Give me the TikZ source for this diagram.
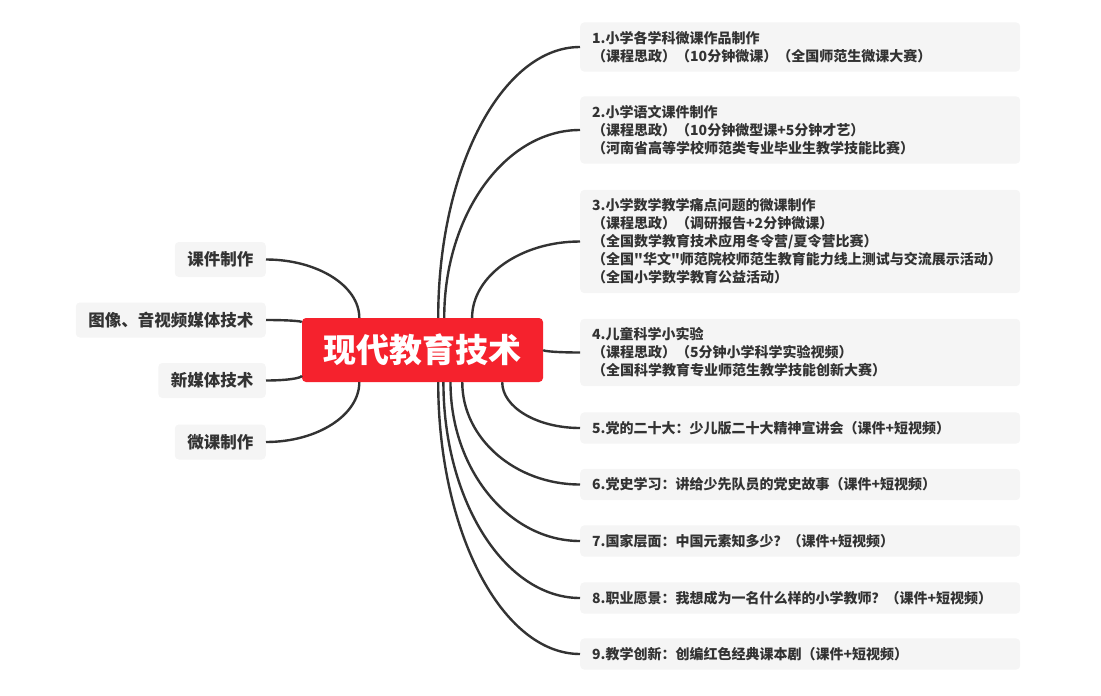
\documentclass[tikz,border=0pt]{standalone}
\usepackage{fontspec}
\setmainfont{Noto Sans CJK SC}[Ligatures=TeXOff]
\usetikzlibrary{calc}

\definecolor{inkgray}{HTML}{333333}
\definecolor{boxgray}{HTML}{F5F5F5}
\definecolor{corered}{HTML}{F5222D}

\begin{document}
\begin{tikzpicture}[
  x=1pt, y=-1pt,
  core/.style={fill=corered, rounded corners=4pt, text=white, font=\fontsize{33}{36}\selectfont\bfseries, minimum width=241pt, minimum height=64pt, inner sep=0pt},
  topic/.style={fill=boxgray, rounded corners=4pt, text=inkgray, font=\fontsize{16.5}{18}\selectfont\bfseries, minimum height=35pt, inner xsep=12.5pt, inner ysep=0pt, anchor=east},
  item/.style={fill=boxgray, rounded corners=4pt, text=inkgray, font=\fontsize{14}{18}\selectfont\bfseries, align=left, text width=416pt, inner xsep=12pt, inner ysep=8.8pt, anchor=west},
  branch/.style={draw=inkgray, line width=2.4pt, to path={.. controls ($(\tikztostart)!0.55!(\tikztostart|-\tikztotarget)$) and ($(\tikztotarget)!0.55!(\tikztostart|-\tikztotarget)$) .. (\tikztotarget)}}
]
\useasboundingbox (0,0) rectangle (1101,696);

\node[core] (core) at (422.5,350) {现代教育技术};

\node[topic] (t1) at (266,259.5) {课件制作};
\node[topic] (t2) at (266,320) {图像、音视频媒体技术};
\node[topic] (t3) at (266,380.5) {新媒体技术};
\node[topic] (t4) at (266,442) {微课制作};

\node[item] (i1) at (580,47) {1.小学各学科微课作品制作\\（课程思政）（10分钟微课）（全国师范生微课大赛）};
\node[item] (i2) at (580,130) {2.小学语文课件制作\\（课程思政）（10分钟微型课+5分钟才艺）\\（河南省高等学校师范类专业毕业生教学技能比赛）};
\node[item] (i3) at (580,241.5) {3.小学数学教学痛点问题的微课制作\\（课程思政）（调研报告+2分钟微课）\\（全国数学教育技术应用冬令营/夏令营比赛）\\（全国"华文"师范院校师范生教育能力线上测试与交流展示活动）\\（全国小学数学教育公益活动）};
\node[item] (i4) at (580,352.5) {4.儿童科学小实验\\（课程思政）（5分钟小学科学实验视频）\\（全国科学教育专业师范生教学技能创新大赛）};
\node[item] (i5) at (580,428) {5.党的二十大：少儿版二十大精神宣讲会（课件+短视频）};
\node[item] (i6) at (580,484.5) {6.党史学习：讲给少先队员的党史故事（课件+短视频）};
\node[item] (i7) at (580,541) {7.国家层面：中国元素知多少？（课件+短视频）};
\node[item] (i8) at (580,598) {8.职业愿景：我想成为一名什么样的小学教师？（课件+短视频）};
\node[item] (i9) at (580,654) {9.教学创新：创编红色经典课本剧（课件+短视频）};

\draw[branch] (core.153) to (t1.east);
\draw[branch] (core.167) to (t2.east);
\draw[branch] (core.192) to (t3.east);
\draw[branch] (core.207) to (t4.east);

\draw[branch] (core.64) to (i1.west);
\draw[branch] (core.56) to (i2.west);
\draw[branch] (core.33) to (i3.west);
\draw[branch] (core.east) to (i4.west);
\draw[branch] (core.-22) to (i5.west);
\draw[branch] (core.-39) to (i6.west);
\draw[branch] (core.-49) to (i7.west);
\draw[branch] (core.-57) to (i8.west);
\draw[branch] (core.-64) to (i9.west);

\end{tikzpicture}
\end{document}
